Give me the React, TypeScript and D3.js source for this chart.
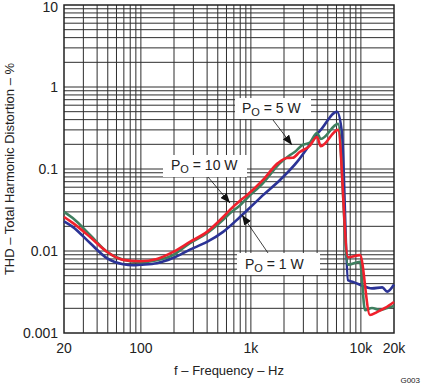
import React from 'react';
import * as d3 from 'd3';

// THD+N vs frequency, three output powers
const freq10W = [20, 24, 34.5, 49, 69, 98, 140, 195, 279, 399, 559, 648, 796, 920, 1290, 1760, 2130, 2400, 2780, 3400, 3990, 4320, 6200, 7640, 9820, 12100, 14000, 16560, 20000];
const thd10W = [0.026, 0.022, 0.0148, 0.0098, 0.0078, 0.0075, 0.008, 0.0097, 0.0129, 0.0171, 0.026, 0.032, 0.041, 0.048, 0.0735, 0.118, 0.136, 0.137, 0.161, 0.19, 0.246, 0.19, 0.3, 0.0084, 0.0089, 0.00166, 0.0018, 0.00202, 0.00239];

const freq5W = [20, 24, 34.5, 49, 69, 98, 140, 195, 279, 399, 559, 648, 796, 920, 1290, 1840, 2270, 2500, 2930, 3400, 3990, 4320, 6200, 7640, 9820, 10900, 12620, 14930, 17340, 20000];
const thd5W = [0.03, 0.0252, 0.0157, 0.0098, 0.0078, 0.0073, 0.0077, 0.0089, 0.0125, 0.0165, 0.024, 0.029, 0.036, 0.044, 0.0675, 0.118, 0.148, 0.161, 0.196, 0.208, 0.275, 0.232, 0.355, 0.0068, 0.0074, 0.0019, 0.00202, 0.0019, 0.00202, 0.00214];

const freq1W = [20, 24, 34.5, 49, 69, 85, 98, 140, 195, 279, 399, 559, 796, 985, 1290, 1840, 2630, 3400, 3990, 4320, 6060, 6720, 7640, 8480, 11370, 12620, 15650, 17340, 20000];
const thd1W = [0.023, 0.0197, 0.0125, 0.0082, 0.0069, 0.0067, 0.0068, 0.0071, 0.0082, 0.0104, 0.0129, 0.0171, 0.026, 0.034, 0.048, 0.0735, 0.122, 0.196, 0.267, 0.3, 0.5, 0.28, 0.0044, 0.0042, 0.0036, 0.0035, 0.0036, 0.0032, 0.0039];

const xTicks = [20, 100, 1000, 10000, 20000];
const xTickLabels = ['20', '100', '1k', '10k', '20k'];
const yTicks = [0.001, 0.01, 0.1, 1, 10];
const yTickLabels = ['0.001', '0.01', '0.1', '1', '10'];

const W = 421;
const H = 385;
const font = 'Liberation Sans, Arial, Helvetica, sans-serif';

const x = d3.scaleLog().domain([20, 20000]).range([64, 394]);
const y = d3.scaleLog().domain([0.001, 10]).range([333, 5]);

const series = [
  { name: '1W', f: freq1W, v: thd1W, color: '#2b3396' },
  { name: '5W', f: freq5W, v: thd5W, color: '#3f7f5f' },
  { name: '10W', f: freq10W, v: thd10W, color: '#f0202c' },
];

// grid at 1..9 per decade
const gridX: number[] = [];
for (let d = 10; d <= 10000; d *= 10) {
  for (let k = 1; k <= 9; k++) {
    const v = d * k;
    if (v > 20 && v < 20000) gridX.push(v);
  }
}
const gridY: number[] = [];
for (let d = 0.001; d < 10; d *= 10) {
  for (let k = 1; k <= 9; k++) {
    const v = d * k;
    if (v > 0.0011 && v < 9.9) gridY.push(v);
  }
}

const line = d3.line<[number, number]>()
  .x(d => x(d[0]))
  .y(d => y(d[1]))
  .curve(d3.curveMonotoneX);

const Label = ({ bx, by, bw, bh, tx, ty, watts }: { bx: number; by: number; bw: number; bh: number; tx: number; ty: number; watts: string }) => (
  <g>
    <rect x={bx} y={by} width={bw} height={bh} fill="#fff" />
    <text x={tx} y={ty} fontSize={14} fontFamily={font} fill="#222">
      P<tspan fontSize={11} dy={3}>O</tspan>
      <tspan dy={-3}>{` = ${watts} W`}</tspan>
    </text>
  </g>
);

export default function App() {
  const [x0, x1] = x.range();
  const [y0, y1] = y.range();
  return (
    <svg width={W} height={H} style={{ position: 'absolute', left: 0, top: 0, background: '#fff' }}>
      <defs>
        <marker id="ah" viewBox="0 0 10 8" refX={10} refY={4} markerWidth={10} markerHeight={8} markerUnits="userSpaceOnUse" orient="auto">
          <path d="M0,0 L10,4 L0,8 Z" fill="#111" />
        </marker>
      </defs>
      <rect x={0} y={0} width={W} height={H} fill="#fff" />
      {gridX.map(v => (
        <line key={'gx' + v} x1={x(v)} x2={x(v)} y1={y1} y2={y0} stroke="#2e2e2e" strokeWidth={1} />
      ))}
      {gridY.map(v => (
        <line key={'gy' + v} x1={x0} x2={x1} y1={y(v)} y2={y(v)} stroke="#2e2e2e" strokeWidth={1} />
      ))}
      <rect x={x0} y={y1} width={x1 - x0} height={y0 - y1} fill="none" stroke="#222" strokeWidth={1.5} />

      <Label bx={235} by={98} bw={76} bh={21} tx={242} ty={113} watts="5" />
      <Label bx={163} by={155} bw={84} bh={22} tx={171} ty={170} watts="10" />
      <Label bx={237} by={253} bw={83} bh={22} tx={245} ty={269} watts="1" />

      {series.map(s => (
        <path key={s.name} d={line(s.f.map((f, i) => [f, s.v[i]] as [number, number])) || ''} fill="none" stroke={s.color} strokeWidth={2.6} strokeLinejoin="round" />
      ))}

      <line x1={273} y1={120} x2={292} y2={145} stroke="#111" strokeWidth={0.8} markerEnd="url(#ah)" />
      <line x1={208} y1={177} x2={230} y2={203} stroke="#111" strokeWidth={0.8} markerEnd="url(#ah)" />
      <line x1={268} y1={253} x2={242} y2={215} stroke="#111" strokeWidth={0.8} markerEnd="url(#ah)" />

      {yTicks.map((v, i) => (
        <text key={'yl' + v} x={58} y={Math.max(y(v), 7)} dy="0.36em" textAnchor="end" fontSize={14} fontFamily={font} fill="#222">{yTickLabels[i]}</text>
      ))}
      {xTicks.map((v, i) => (
        <text key={'xl' + v} x={x(v)} y={353} textAnchor="middle" fontSize={14} fontFamily={font} fill="#222">{xTickLabels[i]}</text>
      ))}
      <text transform={`translate(14,${(y0 + y1) / 2}) rotate(-90)`} textAnchor="middle" fontSize={13} fontFamily={font} fill="#222">
        THD – Total Harmonic Distortion – %
      </text>
      <text x={(x0 + x1) / 2} y={375} textAnchor="middle" fontSize={13} fontFamily={font} fill="#222">
        f – Frequency – Hz
      </text>
      <text x={420} y={383} textAnchor="end" fontSize={8} fontFamily={font} fill="#222">G003</text>
    </svg>
  );
}
